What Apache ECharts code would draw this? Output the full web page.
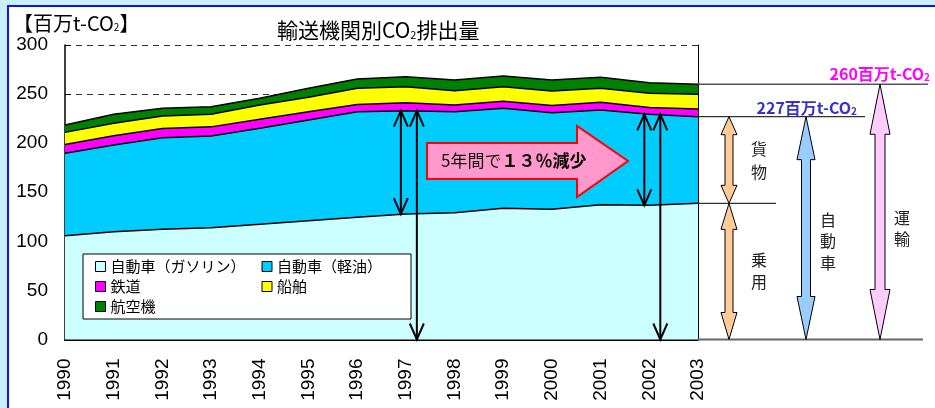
<!DOCTYPE html>
<html><head><meta charset="utf-8">
<script src="https://cdn.jsdelivr.net/npm/echarts@6/dist/echarts.min.js"></script>
<style>html,body{margin:0;padding:0;background:#c8f0ff;} #c{width:935px;height:408px;}</style>
</head><body><div id="c"></div>
<script>
// ---- data ----
const years = ['1990','1991','1992','1993','1994','1995','1996','1997','1998','1999','2000','2001','2002','2003'];
const gasoline = [105.7,109.8,112.2,113.9,117.3,121.0,124.5,127.8,129.2,133.6,132.6,137.3,136.7,138.7];
const diesel   = [84.0, 88.3, 93.4, 93.4, 97.8,102.6,107.5,105.3,102.8,101.9, 98.4, 96.6, 92.7, 88.3];
const rail     = [9.0, 9.5, 9.3, 9.3, 9.3, 8.4, 7.5, 8.1, 7.0, 7.2, 7.4, 7.7, 7.0, 7.7];
const ship     = [12.3,12.6,12.8,12.8,14.4,14.7,16.4,16.3,14.5,14.8,14.7,14.3,14.4,15.1];
const air      = [7.5, 9.2, 7.8, 7.8, 6.9, 9.2, 9.5,10.2,10.8,10.9,11.2,11.2,10.8,10.2];
const seriesNames = ['自動車（ガソリン）','自動車（軽油）','鉄道','船舶','航空機'];
const yMin = 0, yMax = 300, yStep = 50;
const labelTotal = '260百万t-CO';
const labelAuto = '227百万t-CO';
const totalMark = 260, autoMark = 227;

// ---- chart ----
const FJ = '"Noto Sans CJK JP", "Noto Sans", sans-serif';
const FN = '"Liberation Sans", Arial, sans-serif';
const fills = ['#ccffff','#00ccff','#ff00ff','#ffff00','#008000'];
const dataSets = [gasoline, diesel, rail, ship, air];
const chart = echarts.init(document.getElementById('c'), null, {renderer:'canvas'});

const series = seriesNames.map((n,k)=>({
  name:n, type:'line', stack:'total', data:dataSets[k], symbol:'none', showSymbol:false,
  color:fills[k], itemStyle:{color:fills[k]},
  areaStyle:{color:fills[k], opacity:1},
  lineStyle:{color:'#000', width:1.5}, silent:true
}));

const option = {
  animation:false,
  backgroundColor:'#c8f0ff',
  title:[
    {text:'輸送機関別CO{s|2}排出量', left:272, top:15,
     textStyle:{fontFamily:FJ, fontSize:21, fontWeight:'normal', color:'#000',
       rich:{s:{fontFamily:FJ, fontSize:11, padding:[9,0,0,0], color:'#000'}}}},
    {text:'【百万t-CO{s|2}】', left:8, top:8,
     textStyle:{fontFamily:FJ, fontSize:20, fontWeight:'normal', color:'#000',
       rich:{s:{fontFamily:FJ, fontSize:10, padding:[9,0,0,0], color:'#000'}}}}
  ],
  grid:{left:65, right:237, top:45, bottom:68.5, containLabel:false},
  legend:{
    left:83, top:254, orient:'horizontal', width:340,
    padding:[5,12,5,12], itemGap:5, itemWidth:10, itemHeight:10, icon:'rect',
    backgroundColor:'#fff', borderColor:'#000', borderWidth:1, borderRadius:0,
    itemStyle:{borderColor:'#000', borderWidth:1},
    formatter:function(name){ const i = seriesNames.indexOf(name); return '{'+(i%2?'b':'a')+'|'+name+'}'; },
    textStyle:{fontFamily:FJ, fontSize:15, color:'#000', lineHeight:15,
      rich:{a:{fontFamily:FJ, fontSize:15, color:'#000', width:146, lineHeight:15},
            b:{fontFamily:FJ, fontSize:15, color:'#000', width:122, lineHeight:15}}},
    data:seriesNames
  },
  xAxis:{type:'category', data:years, boundaryGap:false,
    axisLine:{lineStyle:{color:'#000', width:2}},
    axisTick:{inside:true, length:6, lineStyle:{color:'#000'}, alignWithLabel:true},
    axisLabel:{rotate:90, fontFamily:FN, fontSize:19, color:'#000', margin:19},
    splitLine:{show:false}
  },
  yAxis:[
    {type:'value', min:yMin, max:yMax, interval:yStep,
     axisLine:{show:true, lineStyle:{color:'#000', width:1.5}},
     axisTick:{show:true, inside:true, length:6, lineStyle:{color:'#000'}},
     axisLabel:{fontFamily:FN, fontSize:19, color:'#000', margin:17},
     splitLine:{show:true, lineStyle:{color:'#333', type:[6,5], width:1}}},
    {type:'value', min:yMin, max:yMax, interval:yStep, position:'right',
     axisLine:{show:true, lineStyle:{color:'#000', width:1}},
     axisTick:{show:false}, axisLabel:{show:false}, splitLine:{show:false}}
  ],
  series:series
};
chart.setOption(option);

function P(i,v){ return chart.convertToPixel({xAxisIndex:0, yAxisIndex:0}, [i,v]); }
function PY(v){ return P(0,v)[1]; }
function PX(i){ return P(i,0)[0]; }

function thinArrow(x, yTop, yBot){
  const hw=7, hl=16, st={stroke:'#000', lineWidth:2, fill:null};
  return [
    {type:'line', shape:{x1:x,y1:yTop,x2:x,y2:yBot}, style:{stroke:'#000', lineWidth:2}, z:50},
    {type:'polyline', shape:{points:[[x-hw,yTop+hl],[x,yTop],[x+hw,yTop+hl]]}, style:st, z:50},
    {type:'polyline', shape:{points:[[x-hw,yBot-hl],[x,yBot],[x+hw,yBot-hl]]}, style:st, z:50}
  ];
}
function fatArrow(x, yTop, yBot, sw, hw, hlT, hlB, fill){
  const p=[[x,yTop],[x+hw,yTop+hlT],[x+sw,yTop+hlT],[x+sw,yBot-hlB],[x+hw,yBot-hlB],[x,yBot],
           [x-hw,yBot-hlB],[x-sw,yBot-hlB],[x-sw,yTop+hlT],[x-hw,yTop+hlT]];
  return {type:'polygon', shape:{points:p}, style:{fill:fill, stroke:'#000', lineWidth:1}, z:50};
}
function vText(x, y, txt, lh){
  return {type:'text', x:x, y:y, z:50, style:{text:txt, fontFamily:FJ, fontSize:16, fill:'#222',
    align:'center', verticalAlign:'middle', lineHeight:lh}};
}

const last = years.length-1;
const i97 = years.indexOf('1997'), i02 = years.indexOf('2002');
const autoT = years.map((_,i)=>gasoline[i]+diesel[i]);
const y0 = PY(0), yTot = PY(totalMark), yAuto = PY(autoMark), yGas = PY(gasoline[last]);
const xR = PX(last);

const g = [];
g.push({type:'rect', z:-100, shape:{x:8, y:6, width:960, height:440}, style:{fill:'#fff', stroke:'#1010ff', lineWidth:2}});
// right guide lines
g.push({type:'line', z:40, shape:{x1:xR,y1:yTot,x2:928,y2:yTot}, style:{stroke:'#555', lineWidth:1.5}});
g.push({type:'line', z:40, shape:{x1:xR,y1:yAuto,x2:865,y2:yAuto}, style:{stroke:'#333', lineWidth:1.2}});
g.push({type:'line', z:40, shape:{x1:xR,y1:yGas,x2:776,y2:yGas}, style:{stroke:'#333', lineWidth:1.2}});
g.push({type:'line', z:40, shape:{x1:xR,y1:y0,x2:923,y2:y0}, style:{stroke:'#666', lineWidth:2}});
// labels
g.push({type:'text', z:50, x:930, y:74, style:{text:labelTotal+'{s|2}', fontFamily:FJ, fontSize:16, fontWeight:'bold', fill:'#ff00ff', align:'right', verticalAlign:'middle',
  rich:{s:{fontFamily:FJ, fontSize:10, fontWeight:'bold', fill:'#ff00ff', padding:[6,0,0,0]}}}});
g.push({type:'text', z:50, x:857, y:108, style:{text:labelAuto+'{s|2}', fontFamily:FJ, fontSize:16, fontWeight:'bold', fill:'#3333cc', align:'right', verticalAlign:'middle',
  rich:{s:{fontFamily:FJ, fontSize:10, fontWeight:'bold', fill:'#3333cc', padding:[6,0,0,0]}}}});
// fat arrows
g.push(fatArrow(729, yAuto, yGas, 4, 8, 18, 18, '#ffcc99'));
g.push(fatArrow(729, yGas, y0, 4, 8, 26, 27, '#ffcc99'));
g.push(fatArrow(806, yAuto, y0, 4.5, 9, 43, 43, '#99ccff'));
g.push(fatArrow(880, yTot, y0, 5, 10, 50, 50, '#ffccff'));
g.push(vText(759, (yAuto+yGas)/2, '貨\n物', 23));
g.push(vText(759, (yGas+y0)/2, '乗\n用', 22));
g.push(vText(828, 241, '自\n動\n車', 21.5));
g.push(vText(902, 228, '運\n輸', 21));
// thin arrows
[i97, i02].forEach(i=>{
  const x = PX(i);
  g.push(...thinArrow(x-5, PY(autoT[i]), PY(gasoline[i])));
  g.push(...thinArrow(x+11, PY(autoT[i]), y0));
});
// pink arrow box
g.push({type:'polygon', z:45, shape:{points:[[427,143],[577,143],[577,126],[628,161],[577,197],[577,179],[427,179]]},
  style:{fill:'#ff99cc', stroke:'#ff0000', lineWidth:2}});
g.push({type:'text', z:51, x:441, y:161, style:{text:'{n|5年間で}{b|１３％減少}', align:'left', verticalAlign:'middle',
  rich:{n:{fontFamily:FJ, fontSize:17, fill:'#111'}, b:{fontFamily:FJ, fontSize:17, fontWeight:'bold', fill:'#000'}}}});

chart.setOption({graphic:{elements:g}});
</script></body></html>
